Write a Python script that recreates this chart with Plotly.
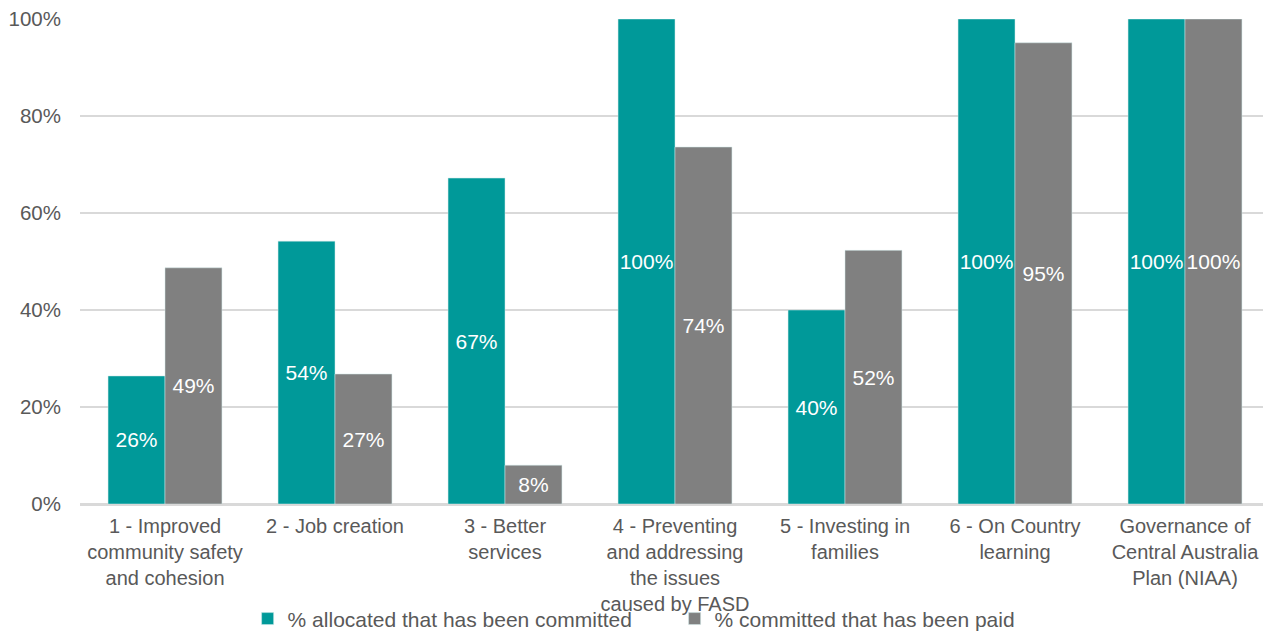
import plotly.graph_objects as go

categories = [
    "1 - Improved<br>community safety<br>and cohesion",
    "2 - Job creation",
    "3 - Better<br>services",
    "4 - Preventing<br>and addressing<br>the issues<br>caused by FASD",
    "5 - Investing in<br>families",
    "6 - On Country<br>learning",
    "Governance of<br>Central Australia<br>Plan (NIAA)",
]
allocated_committed = [0.264, 0.542, 0.672, 1.0, 0.40, 1.0, 1.0]
committed_paid = [0.487, 0.268, 0.080, 0.736, 0.523, 0.951, 1.0]
series_names = ["% allocated that has been committed", "% committed that has been paid"]
colors = ["#009999", "#808080"]

FONT = "Liberation Sans, Arial"

fig = go.Figure()
for name, vals, col in zip(series_names, [allocated_committed, committed_paid], colors):
    fig.add_trace(go.Bar(
        x=categories, y=vals, name=name,
        marker=dict(color=col, line=dict(width=0.5, color="#d0e8e8")),
        texttemplate="%{y:.0%}", textposition="inside", insidetextanchor="middle",
        textfont=dict(color="white", size=21, family=FONT),
        textangle=0, constraintext="none",
    ))

# page body has an 8px default margin, so the figure is sized to fit inside it
fig.update_layout(
    barmode="group", bargap=0.33, bargroupgap=0,
    width=1263, height=624,
    margin=dict(l=72, r=1, t=11, b=128, autoexpand=False),
    plot_bgcolor="white", paper_bgcolor="white",
    font=dict(family=FONT, size=21, color="#595959"),
    showlegend=True,
    legend=dict(orientation="h", xref="container", yref="paper",
                x=0.5278, xanchor="center", y=-0.237, yanchor="middle",
                font=dict(size=21, color="#595959"), entrywidth=382,
                itemclick=False, bgcolor="rgba(0,0,0,0)"),
    uniformtext=dict(mode=False),
)
fig.update_yaxes(range=[0, 1], dtick=0.2, tickformat=".0%", showgrid=True,
                 gridcolor="#d9d9d9", gridwidth=1.5, zeroline=True, zerolinecolor="#d9d9d9",
                 zerolinewidth=1.5, ticks="", ticklabelstandoff=18, fixedrange=True,
                 tickfont=dict(size=20.5), ticklabeloverflow="allow")
fig.update_xaxes(showline=True, linecolor="#d9d9d9", linewidth=1.5, ticks="",
                 ticklabelstandoff=3, tickangle=0, tickfont=dict(size=20),
                 ticklabeloverflow="allow")

fig.write_html("out.html")
